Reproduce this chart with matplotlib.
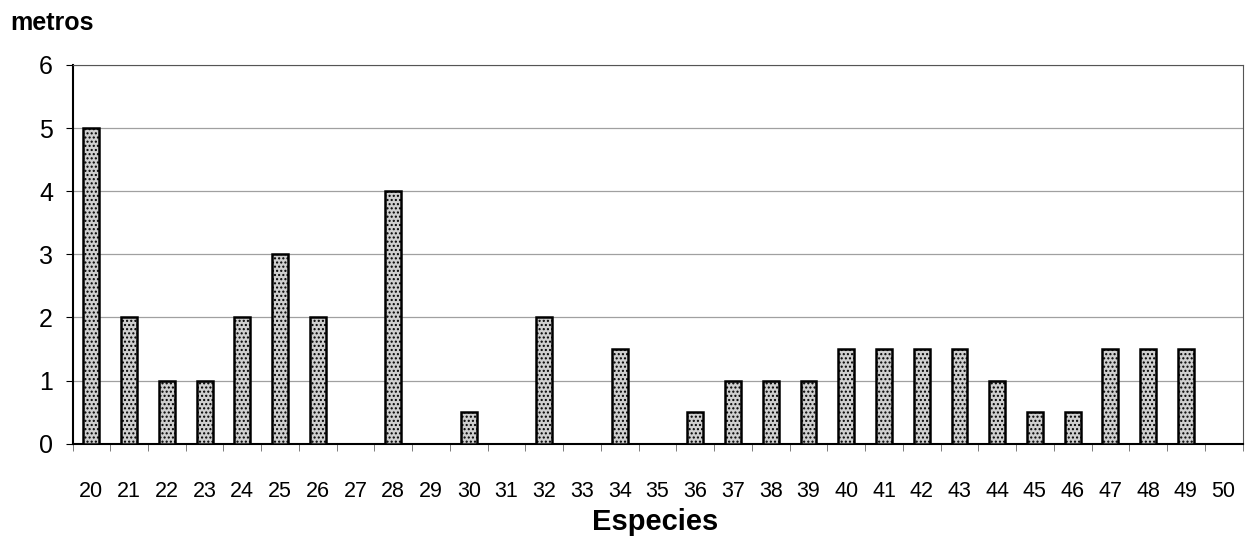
import numpy as np
import matplotlib.pyplot as plt

# Species codes and heights (metros)
especies = list(range(20, 51))
metros = [5, 2, 1, 1, 2, 3, 2, 0, 4, 0,
          0.5, 0, 2, 0, 1.5, 0, 0.5, 1, 1, 1,
          1.5, 1.5, 1.5, 1.5, 1, 0.5, 0.5, 1.5, 1.5, 1.5,
          0]
y_ticks = [0, 1, 2, 3, 4, 5, 6]

plt.rcParams['font.family'] = ['Liberation Sans', 'DejaVu Sans']
plt.rcParams['hatch.color'] = '#8f8f8f'

fig = plt.figure(figsize=(12.5, 5.41), dpi=100)
ax = fig.add_axes([0.058, 0.18, 0.936, 0.70])

x = np.arange(len(especies))
ax.bar(x, metros, width=0.42, color='#cfcfcf', edgecolor='black',
       linewidth=1.8, hatch='....', zorder=3)

ax.set_xlim(-0.5, len(especies) - 0.5)
ax.set_ylim(0, 6)
ax.set_yticks(y_ticks)
ax.set_yticklabels([str(v) for v in y_ticks], fontsize=18)
ax.yaxis.grid(True, color='#a0a0a0', linewidth=0.9, zorder=0)

ax.set_xticks(x)
ax.set_xticklabels([str(e) for e in especies], fontsize=15.5)
ax.set_xticks(np.arange(-0.5, len(especies), 1), minor=True)
ax.tick_params(axis='x', which='major', length=0, pad=27)
ax.tick_params(axis='x', which='minor', length=5, color='#666666')
ax.tick_params(axis='y', length=5, pad=9)

for s in ['left', 'bottom']:
    ax.spines[s].set_linewidth(1.5)
    ax.spines[s].set_color('black')
ax.spines['top'].set_color('#555555')
ax.spines['right'].set_color('#555555')

fig.text(0.008, 0.945, 'metros', fontsize=18, fontweight='bold')
fig.text(0.524, 0.02, 'Especies', fontsize=21, fontweight='bold', ha='center')

fig.savefig('out.png', dpi=100)
